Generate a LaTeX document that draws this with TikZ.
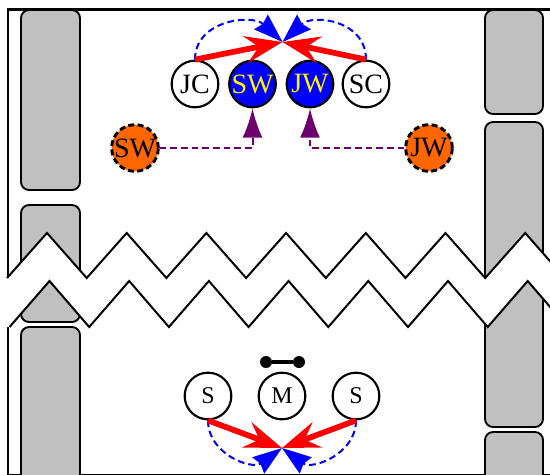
\documentclass[tikz,border=0pt]{standalone}
\usepackage{fontspec}
\setmainfont{Liberation Serif}
\usetikzlibrary{arrows.meta}
\definecolor{laneGray}{RGB}{192,192,192}
\definecolor{ghostOrange}{RGB}{255,102,0}
\definecolor{ghostPurple}{RGB}{110,0,110}

\begin{document}
\begin{tikzpicture}[x=0.75pt, y=-0.75pt,
    lane/.style={draw, line width=1.4pt, fill=laneGray, rounded corners=6pt},
    player/.style={circle, draw, line width=1.6pt, minimum size=35pt, inner sep=0pt,
                   font=\fontsize{21}{21}\selectfont},
    smallplayer/.style={player, font=\fontsize{18}{18}\selectfont},
    ghost/.style={player, fill=ghostOrange, dashed, dash pattern=on 4.5pt off 2.5pt, line width=2.2pt},
    active/.style={player, fill=blue, text=yellow},
    bell/.style={circle, fill=black, inner sep=0pt, minimum size=9pt},
    push/.style={red, line width=4.3pt, -{Stealth[length=28pt, width=20pt, inset=10pt]}},
    swing/.style={blue, line width=1.5pt, dash pattern=on 5pt off 3pt,
                  -{Stealth[length=22pt, width=15pt, inset=2pt]}},
    relocate/.style={ghostPurple, line width=1.5pt, dash pattern=on 5pt off 3pt,
                  -{Latex[length=22pt, width=15pt]}}
]
    \clip (0,0) rectangle (550,475);
    % frame and lanes
    \draw[line width=1.6pt] (8,9.5) rectangle (600,475);
    \draw[lane] (21,10) rectangle (80,190);
    \draw[lane] (21,205) rectangle (80,322);
    \draw[lane] (21,327) rectangle (80,490);
    \draw[lane] (485,10) rectangle (543,114);
    \draw[lane] (485,122) rectangle (543,427);
    \draw[lane] (485,432) rectangle (543,490);

    % break in the court
    \fill[white] (5,278) -- (7,278)
        \foreach \k in {0,...,7} { -- ({47+79.7*\k},233) -- ({86.7+79.7*\k},278) }
        -- (647.1,327)
        \foreach \k in {7,6,...,0} { -- ({49.5+79.7*\k},281) -- ({9.5+79.7*\k},327) }
        -- (5,327) -- cycle;
    \draw[line width=1.5pt] (7,278)
        \foreach \k in {0,...,7} { -- ({47+79.7*\k},233) -- ({86.7+79.7*\k},278) };
    \draw[line width=1.5pt] (9.5,327)
        \foreach \k in {0,...,7} { -- ({49.5+79.7*\k},281) -- ({89.2+79.7*\k},327) };

    % upper half
    \node[player] (jc) at (195,84) {JC};
    \node[active] (sw) at (252.5,84) {SW};
    \node[active] (jw) at (310,84) {JW};
    \node[player] (sc) at (366,84) {SC};
    \node[ghost] (swg) at (135,148) {SW};
    \node[ghost] (jwg) at (429,148) {JW};
    \coordinate (top) at (282.5,42);

    \draw[swing] (jc.north) .. controls +(0,-40) and +(-30,-28) .. (top);
    \draw[swing] (sc.north) .. controls +(0,-40) and +(30,-28) .. (top);
    \draw[push] (jc.north) -- (top);
    \draw[push] (sc.north) -- (top);
    \draw[relocate] (swg.east) -| (sw.south);
    \draw[relocate] (jwg.west) -| (jw.south);

    % lower half
    \node[smallplayer] (sl) at (208,396) {S};
    \node[smallplayer] (m) at (282,396) {M};
    \node[smallplayer] (sr) at (356,396) {S};
    \node[bell] (dl) at (266,362) {};
    \node[bell] (dr) at (299,362) {};
    \draw[line width=3pt] (dl) -- (dr);
    \coordinate (bot) at (282,448);

    \draw[swing] (sl.south) .. controls +(0,34) and +(-30,22) .. (bot);
    \draw[swing] (sr.south) .. controls +(0,34) and +(30,22) .. (bot);
    \draw[push] (sl.south) -- (bot);
    \draw[push] (sr.south) -- (bot);
\end{tikzpicture}
\end{document}
